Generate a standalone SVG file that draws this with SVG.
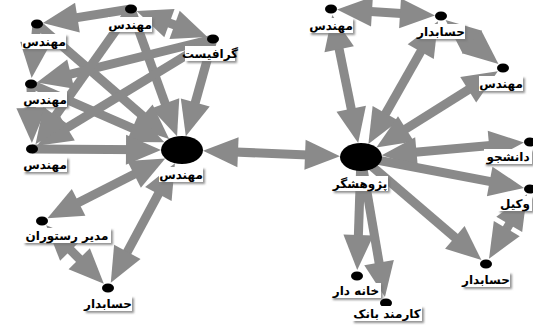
<svg xmlns="http://www.w3.org/2000/svg" width="533" height="325" viewBox="0 0 533 325">
<style>
.e{stroke:#8a8a8a;stroke-width:9;fill:none}
.d{fill:#000}
.lb{fill:#fff;filter:url(#sh)}
.t{font-family:"DejaVu Sans",sans-serif;font-size:12px;font-weight:bold;fill:#000;text-anchor:middle}
</style>
<defs>
<marker id="ah" markerUnits="userSpaceOnUse" markerWidth="36" markerHeight="30" refX="21" refY="15" orient="auto-start-reverse" overflow="visible">
<path d="M0,0 L35,15 L0,30 z" fill="#8a8a8a"/>
</marker>
<filter id="sh" x="-20%" y="-30%" width="150%" height="180%">
<feDropShadow dx="2" dy="2" stdDeviation="1.2" flood-color="#777" flood-opacity="0.8"/>
</filter>
</defs>
<rect width="533" height="325" fill="#fff"/>
<g id="connectors">
<line class="e" x1="131" y1="9" x2="172.3" y2="123.2" marker-end="url(#ah)"/>
<line class="e" x1="37" y1="24" x2="158.6" y2="129.7" marker-end="url(#ah)"/>
<line class="e" x1="213" y1="39" x2="189.6" y2="122.7" marker-end="url(#ah)"/>
<line class="e" x1="31" y1="84" x2="151.6" y2="136.7" marker-end="url(#ah)"/>
<line class="e" x1="32" y1="149" x2="147" y2="149.8" marker-end="url(#ah)"/>
<line class="e" x1="152.8" y1="164.8" x2="59.9" y2="212" marker-start="url(#ah)" marker-end="url(#ah)"/>
<line class="e" x1="168.3" y1="175.5" x2="117.4" y2="270.4" marker-start="url(#ah)" marker-end="url(#ah)"/>
<line class="e" x1="56" y1="235.3" x2="94" y2="273.7" marker-start="url(#ah)" marker-end="url(#ah)"/>
<line class="e" x1="131" y1="9" x2="56.7" y2="20.9" marker-end="url(#ah)"/>
<line class="e" x1="194.3" y1="32.1" x2="149.7" y2="15.9" marker-start="url(#ah)" marker-end="url(#ah)"/>
<line class="e" x1="213" y1="39" x2="50.4" y2="79.2" marker-end="url(#ah)"/>
<line class="e" x1="213" y1="39" x2="49.1" y2="138.6" marker-end="url(#ah)"/>
<line class="e" x1="37" y1="24" x2="33" y2="64.1" marker-end="url(#ah)"/>
<line class="e" x1="31" y1="84" x2="31.7" y2="129" marker-end="url(#ah)"/>
<line class="e" x1="131" y1="9" x2="43.6" y2="132.7" marker-end="url(#ah)"/>
<line class="e" x1="217" y1="151.3" x2="326" y2="155.7" marker-start="url(#ah)" marker-end="url(#ah)"/>
<line class="e" x1="355.4" y1="129.4" x2="335" y2="28.6" marker-start="url(#ah)" marker-end="url(#ah)"/>
<line class="e" x1="375.3" y1="131.7" x2="431.1" y2="33.4" marker-start="url(#ah)" marker-end="url(#ah)"/>
<line class="e" x1="388.2" y1="140" x2="486" y2="78.6" marker-start="url(#ah)" marker-end="url(#ah)"/>
<line class="e" x1="395.6" y1="154" x2="510" y2="143.7" marker-start="url(#ah)" marker-end="url(#ah)"/>
<line class="e" x1="361" y1="157" x2="510.3" y2="185.3" marker-end="url(#ah)"/>
<line class="e" x1="361" y1="157" x2="470.8" y2="251" marker-end="url(#ah)"/>
<line class="e" x1="519.9" y1="206.3" x2="496.1" y2="246.7" marker-start="url(#ah)" marker-end="url(#ah)"/>
<line class="e" x1="361" y1="157" x2="357.7" y2="256" marker-end="url(#ah)"/>
<line class="e" x1="361" y1="157" x2="382.6" y2="283.3" marker-end="url(#ah)"/>
<line class="e" x1="351" y1="10.3" x2="421" y2="14.7" marker-start="url(#ah)" marker-end="url(#ah)"/>
<line class="e" x1="456.3" y1="28.9" x2="487.7" y2="55.1" marker-start="url(#ah)" marker-end="url(#ah)"/>
</g>
<g id="L0"><ellipse class="d" cx="182" cy="150" rx="21" ry="14"/><rect class="lb" x="159" y="167" width="44" height="15"/><text class="t" x="181" y="179">مهندس</text></g>
<g id="L1"><ellipse class="d" cx="131" cy="9" rx="6" ry="4.5"/><rect class="lb" x="108" y="17" width="44" height="15"/><text class="t" x="130" y="29">مهندس</text></g>
<g id="L2"><ellipse class="d" cx="37" cy="24" rx="6" ry="4.5"/><rect class="lb" x="22" y="34" width="44" height="15"/><text class="t" x="44" y="46">مهندس</text></g>
<g id="L3"><ellipse class="d" cx="213" cy="39" rx="6" ry="4.5"/><rect class="lb" x="185" y="46" width="50" height="15"/><text class="t" x="210" y="58">گرافیست</text></g>
<g id="L4"><ellipse class="d" cx="31" cy="84" rx="6" ry="4.5"/><rect class="lb" x="23" y="92" width="44" height="15"/><text class="t" x="45" y="104">مهندس</text></g>
<g id="L5"><ellipse class="d" cx="32" cy="149" rx="6" ry="4.5"/><rect class="lb" x="23" y="157" width="44" height="15"/><text class="t" x="45" y="169">مهندس</text></g>
<g id="L6"><ellipse class="d" cx="42" cy="221" rx="6" ry="4.5"/><rect class="lb" x="23" y="228" width="88" height="15"/><text class="t" x="67" y="240">مدیر رستوران</text></g>
<g id="L7"><ellipse class="d" cx="108" cy="288" rx="6" ry="4.5"/><rect class="lb" x="84" y="296" width="48" height="15"/><text class="t" x="108" y="308">حسابدار</text></g>
<g id="R0"><ellipse class="d" cx="361" cy="157" rx="21" ry="14"/><rect class="lb" x="332" y="176" width="56" height="15"/><text class="t" x="360" y="188">پژوهشگر</text></g>
<g id="R1"><ellipse class="d" cx="331" cy="9" rx="6" ry="4.5"/><rect class="lb" x="309" y="18" width="44" height="15"/><text class="t" x="331" y="30">مهندس</text></g>
<g id="R2"><ellipse class="d" cx="441" cy="16" rx="6" ry="4.5"/><rect class="lb" x="417" y="24" width="48" height="15"/><text class="t" x="441" y="36">حسابدار</text></g>
<g id="R3"><ellipse class="d" cx="503" cy="68" rx="6" ry="4.5"/><rect class="lb" x="479" y="76" width="44" height="15"/><text class="t" x="501" y="88">مهندس</text></g>
<g id="R4"><ellipse class="d" cx="530" cy="142" rx="6" ry="4.5"/><rect class="lb" x="484" y="149" width="48" height="15"/><text class="t" x="508" y="161">دانشجو</text></g>
<g id="R5"><ellipse class="d" cx="530" cy="189" rx="6" ry="4.5"/><rect class="lb" x="498" y="196" width="34" height="15"/><text class="t" x="515" y="208">وکیل</text></g>
<g id="R6"><ellipse class="d" cx="486" cy="264" rx="6" ry="4.5"/><rect class="lb" x="462" y="272" width="48" height="15"/><text class="t" x="486" y="284">حسابدار</text></g>
<g id="R7"><ellipse class="d" cx="357" cy="276" rx="6" ry="4.5"/><rect class="lb" x="331" y="283" width="50" height="15"/><text class="t" x="356" y="295">خانه دار</text></g>
<g id="R8"><ellipse class="d" cx="386" cy="303" rx="6" ry="4.5"/><rect class="lb" x="352" y="306" width="70" height="15"/><text class="t" x="387" y="318">کارمند بانک</text></g>
</svg>
